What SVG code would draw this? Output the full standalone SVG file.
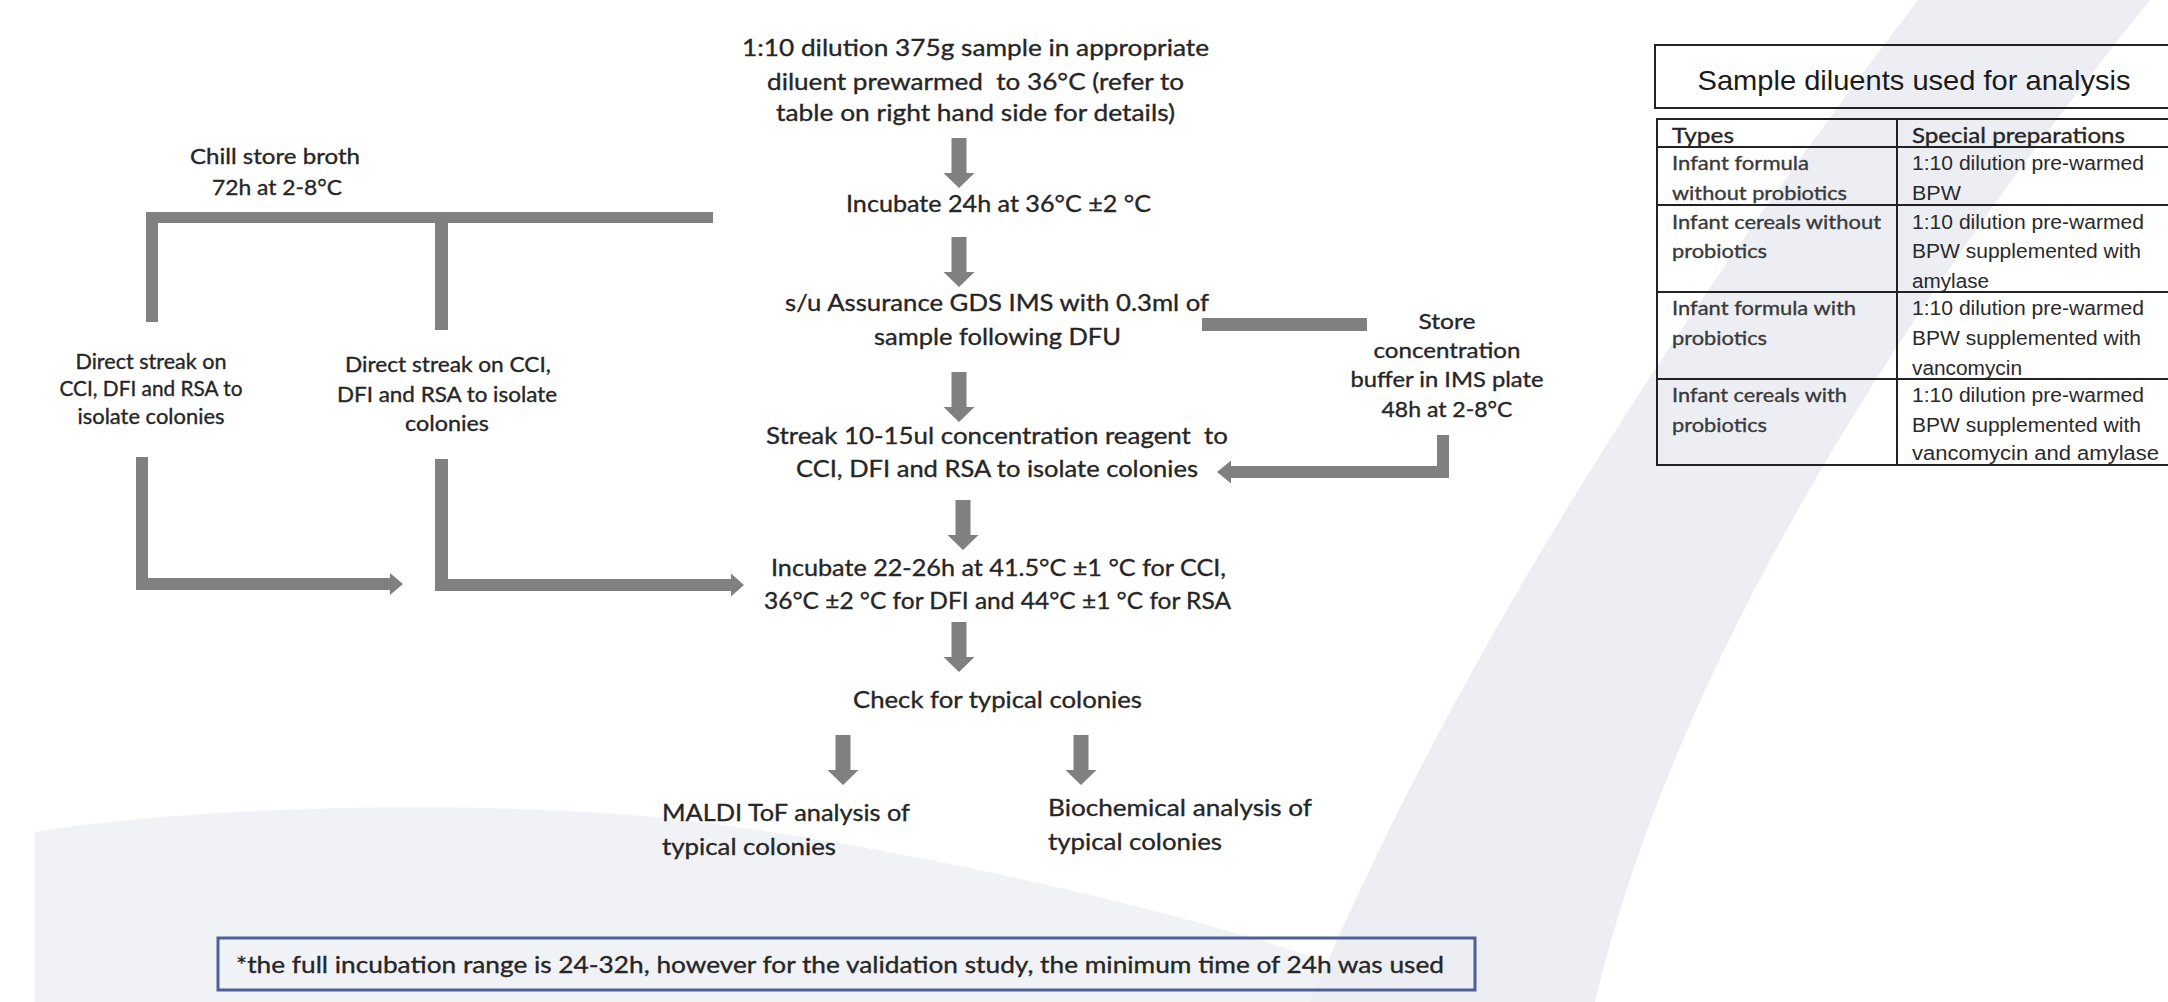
<svg xmlns="http://www.w3.org/2000/svg" width="2168" height="1002" viewBox="0 0 2168 1002">
<style>
.t{font-family:Lato,"Liberation Sans",sans-serif;fill:#262626;stroke:#262626;stroke-width:0.35}
.m{font-size:24px}
.s{font-size:21px}
.c{text-anchor:middle}
.ar{font-family:"Liberation Sans",Arial,sans-serif;fill:#1a1a1a}
.conn{fill:#808080}
.tl{stroke:#222;stroke-width:2;fill:none}
</style>
<defs>
<path id="da" d="M-7.5,0 H7.5 V35 H15.5 L0,50 L-15.5,35 H-7.5 Z"/>
</defs>
<rect width="2168" height="1002" fill="#ffffff"/>
<g id="background">
<path d="M35,1002 L35,832 C200,805 500,798 700,822 C950,855 1250,925 1440,1002 Z" fill="#f1f2f6"/>
<path d="M1918,0 Q1506,539 1310,1002 L1595,1002 Q1700,560 2150,0 Z" fill="#eceef4"/>
</g>
<g id="connectors" class="conn">
<path d="M146,212 H713 V223 H448 V330 H435 V223 H158 V322 H146 Z"/>
<path d="M136,457 H148 V578 H390 V573 L403,584 L390,595 V590 H136 Z"/>
<path d="M435,459 H448 V579 H731 V573.5 L744,585 L731,596.5 V591 H435 Z"/>
<path d="M1202,318 H1367 V331 H1202 Z"/>
<path d="M1437,435 H1449 V478 H1231 V483.5 L1217,472 L1231,460.5 V466 H1437 Z"/>
<use href="#da" transform="translate(959,138)"/>
<use href="#da" transform="translate(959,237)"/>
<use href="#da" transform="translate(959,372)"/>
<use href="#da" transform="translate(963,500)"/>
<use href="#da" transform="translate(959,622)"/>
<use href="#da" transform="translate(843,735)"/>
<use href="#da" transform="translate(1081,735)"/>
</g>
<g id="n-dilution" class="t m c">
<text x="975.5" y="56" textLength="467" lengthAdjust="spacingAndGlyphs">1:10 dilution 375g sample in appropriate</text>
<text x="975.5" y="90" textLength="417" lengthAdjust="spacingAndGlyphs" xml:space="preserve" style="white-space:pre">diluent prewarmed  to 36°C (refer to</text>
<text x="975.5" y="121" textLength="399" lengthAdjust="spacingAndGlyphs">table on right hand side for details)</text>
</g>
<g id="n-incubate1" class="t m c">
<text x="998.5" y="212" textLength="305" lengthAdjust="spacingAndGlyphs">Incubate 24h at 36°C ±2 °C</text>
</g>
<g id="n-ims" class="t m c">
<text x="997" y="311" textLength="424" lengthAdjust="spacingAndGlyphs">s/u Assurance GDS IMS with 0.3ml of</text>
<text x="997.5" y="345" textLength="247" lengthAdjust="spacingAndGlyphs">sample following DFU</text>
</g>
<g id="n-streak" class="t m c">
<text x="997" y="444" textLength="462" lengthAdjust="spacingAndGlyphs" xml:space="preserve" style="white-space:pre">Streak 10-15ul concentration reagent  to</text>
<text x="997" y="477" textLength="402" lengthAdjust="spacingAndGlyphs">CCI, DFI and RSA to isolate colonies</text>
</g>
<g id="n-incubate2" class="t m c">
<text x="998.5" y="576" textLength="455" lengthAdjust="spacingAndGlyphs">Incubate 22-26h at 41.5°C ±1 °C for CCI,</text>
<text x="997.5" y="609" textLength="467" lengthAdjust="spacingAndGlyphs">36°C ±2 °C for DFI and 44°C ±1 °C for RSA</text>
</g>
<g id="n-check" class="t m c">
<text x="997.5" y="708" textLength="289" lengthAdjust="spacingAndGlyphs">Check for typical colonies</text>
</g>
<g id="n-maldi" class="t m">
<text x="662" y="821" textLength="248" lengthAdjust="spacingAndGlyphs">MALDI ToF analysis of</text>
<text x="662" y="855" textLength="174" lengthAdjust="spacingAndGlyphs">typical colonies</text>
</g>
<g id="n-biochem" class="t m">
<text x="1048" y="816" textLength="264" lengthAdjust="spacingAndGlyphs">Biochemical analysis of</text>
<text x="1048" y="850" textLength="174" lengthAdjust="spacingAndGlyphs">typical colonies</text>
</g>
<g id="n-chill" class="t c" style="font-size:22px">
<text x="275" y="164" textLength="170" lengthAdjust="spacingAndGlyphs">Chill store broth</text>
<text x="277" y="195" textLength="130" lengthAdjust="spacingAndGlyphs">72h at 2-8°C</text>
</g>
<g id="n-direct1" class="t s c">
<text x="151" y="369" textLength="151" lengthAdjust="spacingAndGlyphs">Direct streak on</text>
<text x="151" y="396" textLength="183" lengthAdjust="spacingAndGlyphs">CCI, DFI and RSA to</text>
<text x="151" y="424" textLength="147" lengthAdjust="spacingAndGlyphs">isolate colonies</text>
</g>
<g id="n-direct2" class="t s c">
<text x="448" y="372" textLength="206" lengthAdjust="spacingAndGlyphs">Direct streak on CCI,</text>
<text x="447" y="402" textLength="220" lengthAdjust="spacingAndGlyphs">DFI and RSA to isolate</text>
<text x="447" y="431" textLength="84" lengthAdjust="spacingAndGlyphs">colonies</text>
</g>
<g id="n-store" class="t c" style="font-size:22px">
<text x="1447" y="329" textLength="57" lengthAdjust="spacingAndGlyphs">Store</text>
<text x="1447" y="358" textLength="147" lengthAdjust="spacingAndGlyphs">concentration</text>
<text x="1447" y="387" textLength="193" lengthAdjust="spacingAndGlyphs">buffer in IMS plate</text>
<text x="1447" y="417" textLength="131" lengthAdjust="spacingAndGlyphs">48h at 2-8°C</text>
</g>
<g id="n-table">
<rect x="1655" y="45" width="520" height="63" fill="#ffffff" class="tl"/>
<text x="1914" y="90" class="ar c" style="font-size:28px" textLength="433" lengthAdjust="spacingAndGlyphs">Sample diluents used for analysis</text>
<rect x="1657" y="119" width="516" height="346" fill="#ffffff" class="tl"/>
<path class="tl" d="M1657,147 H2173 M1657,205 H2173 M1657,292 H2173 M1657,379 H2173 M1897,119 V465"/>
<g class="t" style="font-size:21px">
<text x="1672" y="143" textLength="62" lengthAdjust="spacingAndGlyphs">Types</text>
<text x="1912" y="143" textLength="213" lengthAdjust="spacingAndGlyphs">Special preparations</text>
</g>
<g class="t" style="font-size:20px;fill:#3a3a3a;stroke:#3a3a3a">
<text x="1672" y="170" textLength="137" lengthAdjust="spacingAndGlyphs">Infant formula</text>
<text x="1672" y="200" textLength="175" lengthAdjust="spacingAndGlyphs">without probiotics</text>
<text x="1672" y="229" textLength="209" lengthAdjust="spacingAndGlyphs">Infant cereals without</text>
<text x="1672" y="258" textLength="95" lengthAdjust="spacingAndGlyphs">probiotics</text>
<text x="1672" y="315" textLength="184" lengthAdjust="spacingAndGlyphs">Infant formula with</text>
<text x="1672" y="345" textLength="95" lengthAdjust="spacingAndGlyphs">probiotics</text>
<text x="1672" y="402" textLength="175" lengthAdjust="spacingAndGlyphs">Infant cereals with</text>
<text x="1672" y="432" textLength="95" lengthAdjust="spacingAndGlyphs">probiotics</text>
</g>
<g class="ar" style="font-size:20px;fill:#2a2a2a">
<text x="1912" y="170" textLength="232" lengthAdjust="spacingAndGlyphs">1:10 dilution pre-warmed</text>
<text x="1912" y="200" textLength="49" lengthAdjust="spacingAndGlyphs">BPW</text>
<text x="1912" y="229" textLength="232" lengthAdjust="spacingAndGlyphs">1:10 dilution pre-warmed</text>
<text x="1912" y="258" textLength="229" lengthAdjust="spacingAndGlyphs">BPW supplemented with</text>
<text x="1912" y="288" textLength="77" lengthAdjust="spacingAndGlyphs">amylase</text>
<text x="1912" y="315" textLength="232" lengthAdjust="spacingAndGlyphs">1:10 dilution pre-warmed</text>
<text x="1912" y="345" textLength="229" lengthAdjust="spacingAndGlyphs">BPW supplemented with</text>
<text x="1912" y="375" textLength="110" lengthAdjust="spacingAndGlyphs">vancomycin</text>
<text x="1912" y="402" textLength="232" lengthAdjust="spacingAndGlyphs">1:10 dilution pre-warmed</text>
<text x="1912" y="432" textLength="229" lengthAdjust="spacingAndGlyphs">BPW supplemented with</text>
<text x="1912" y="460" textLength="247" lengthAdjust="spacingAndGlyphs">vancomycin and amylase</text>
</g>
</g>
<g id="n-footnote">
<rect x="218" y="938" width="1257" height="52" fill="none" stroke="#4a6096" stroke-width="3"/>
<text x="236" y="973" class="t m" textLength="1208" lengthAdjust="spacingAndGlyphs">*the full incubation range is 24-32h, however for the validation study, the minimum time of 24h was used</text>
</g>
</svg>
